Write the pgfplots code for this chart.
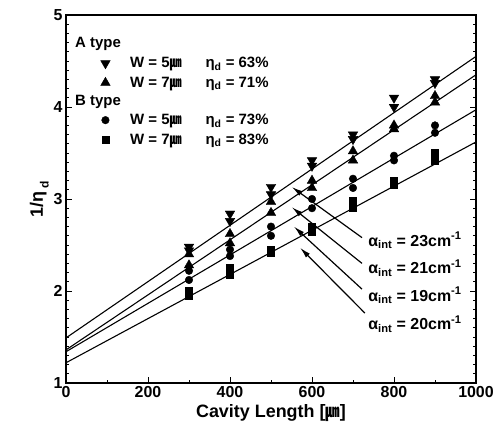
\documentclass[border=0pt]{standalone}
\usepackage{pgfplots}
\pgfplotsset{compat=1.18}
\usepackage{fontspec}
\setmainfont{Liberation Sans}
\newfontfamily\cjk{Noto Sans CJK KR}
\usetikzlibrary{arrows.meta}

\newcommand{\um}{{\cjk\scalebox{0.8}[1]{㎛}}}

\begin{document}
\begin{tikzpicture}
\begin{axis}[
  scale only axis,
  width=410bp, height=368bp,
  xmin=0, xmax=1000, ymin=1, ymax=5,
  xtick={0,200,...,1000}, minor x tick num=1,
  ytick={1,2,3,4,5}, minor y tick num=9,
  xtick pos=bottom, ytick pos=both,
  tick align=inside,
  major tick length=6bp, minor tick length=3.5bp,
  axis line style={line width=1.2pt},
  every tick/.style={black, line width=0.9pt},
  /pgf/number format/assume math mode=true,
  /pgf/number format/1000 sep={},
  tick label style={font=\fontsize{16}{16}\selectfont\bfseries},
  xlabel={Cavity Length [\um]},
  ylabel={1/η\,\raisebox{-0.6ex}{\fontsize{12}{12}\selectfont d}},
  label style={font=\fontsize{18}{18}\selectfont\bfseries},
  ylabel style={yshift=-2bp},
  legend style={draw=none, fill=none, at={(rel axis cs:0.075,0.945)}, anchor=north west,
    font=\fontsize{15}{15}\selectfont\bfseries, row sep=3.5bp,
    inner sep=0pt},
  legend cell align=left,
]

% fitted lines
\addplot[black, line width=1.1pt, forget plot] coordinates {(0,1.49) (1000,4.55)};
\addplot[black, line width=1.1pt, forget plot] coordinates {(0,1.36) (1000,4.35)};
\addplot[black, line width=1.1pt, forget plot] coordinates {(0,1.34) (1000,3.97)};
\addplot[black, line width=1.1pt, forget plot] coordinates {(0,1.22) (1000,3.62)};

% A type, W = 5 um
\addplot[only marks, mark=triangle*, mark size=5.5bp, mark options={rotate=180, fill=black}, forget plot]
 coordinates {(300,2.48)(300,2.44)(400,2.84)(400,2.76)(500,3.13)(500,3.05)(600,3.42)(600,3.36)
              (700,3.70)(700,3.65)(800,4.10)(800,4.00)(900,4.30)(900,4.26)};
% A type, W = 7 um
\addplot[only marks, mark=triangle*, mark size=5.5bp, mark options={fill=black}, forget plot]
 coordinates {(300,2.40)(300,2.28)(400,2.62)(400,2.52)(500,2.97)(500,2.85)(600,3.20)(600,3.12)
              (700,3.52)(700,3.42)(800,3.80)(800,3.76)(900,4.12)(900,4.05)};
% B type, W = 5 um
\addplot[only marks, mark=*, mark size=3.8bp, mark options={fill=black}, forget plot]
 coordinates {(300,2.22)(300,2.12)(400,2.45)(400,2.38)(500,2.70)(500,2.60)(600,3.00)(600,2.90)
              (700,3.22)(700,3.12)(800,3.47)(800,3.42)(900,3.80)(900,3.72)};
% B type, W = 7 um
\addplot[only marks, mark=square*, mark size=3.5bp, mark options={fill=black}, forget plot]
 coordinates {(300,2.00)(300,1.95)(400,2.25)(400,2.18)(500,2.45)(500,2.42)(600,2.70)(600,2.64)
              (700,2.98)(700,2.90)(800,3.20)(800,3.15)(900,3.50)(900,3.42)};

% legend (group headings are set as separate labels below)
\addlegendimage{empty legend}
\addlegendentry{\rule{0pt}{11bp}}
\addlegendimage{only marks, mark=triangle*, mark size=5.5bp, mark options={rotate=180, fill=black}}
\addlegendentry{\hspace*{18bp}W = 5\um\hspace{24bp}η\textsubscript{d} = 63\%}
\addlegendimage{only marks, mark=triangle*, mark size=5.5bp, mark options={fill=black}}
\addlegendentry{\hspace*{18bp}W = 7\um\hspace{24bp}η\textsubscript{d} = 71\%}
\addlegendimage{empty legend}
\addlegendentry{\rule{0pt}{9bp}}
\addlegendimage{only marks, mark=*, mark size=3.8bp, mark options={fill=black}}
\addlegendentry{\hspace*{18bp}W = 5\um\hspace{24bp}η\textsubscript{d} = 73\%}
\addlegendimage{only marks, mark=square*, mark size=3.5bp, mark options={fill=black}}
\addlegendentry{\hspace*{18bp}W = 7\um\hspace{24bp}η\textsubscript{d} = 83\%}

\begin{scope}[every node/.style={anchor=west, inner sep=0pt, font=\fontsize{15}{15}\selectfont\bfseries}]
\node at (rel axis cs:0.022,0.922) {A type};
\node at (rel axis cs:0.022,0.764) {B type};
\end{scope}

% internal loss annotations
\begin{scope}[line width=1.2pt, -{Latex[length=11bp,width=5.5bp]}]
\draw (axis cs:722,2.58) -- (axis cs:551,3.13);
\draw (axis cs:722,2.30) -- (axis cs:551,2.91);
\draw (axis cs:722,2.02) -- (axis cs:556,2.70);
\draw (axis cs:729,1.76) -- (axis cs:571,2.47);
\end{scope}
\begin{scope}[every node/.style={anchor=west, inner sep=0pt, font=\fontsize{16}{16}\selectfont\bfseries}]
\node at (axis cs:737,2.55) {α\textsubscript{int} = 23cm\textsuperscript{-1}};
\node at (axis cs:737,2.25) {α\textsubscript{int} = 21cm\textsuperscript{-1}};
\node at (axis cs:737,1.95) {α\textsubscript{int} = 19cm\textsuperscript{-1}};
\node at (axis cs:737,1.64) {α\textsubscript{int} = 20cm\textsuperscript{-1}};
\end{scope}
\end{axis}
\pgfresetboundingbox
\path[use as bounding box] (current axis.south west) ++(-66bp,-62bp) rectangle ([shift={(20bp,15bp)}]current axis.north east);
\end{tikzpicture}
\end{document}
